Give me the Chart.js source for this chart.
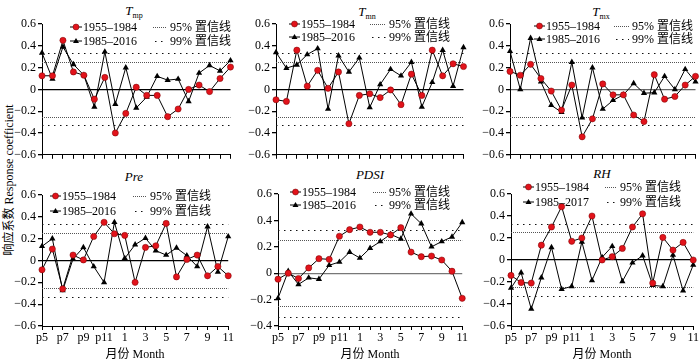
<!DOCTYPE html>
<html lang="zh">
<head>
<meta charset="UTF-8">
<title>响应系数</title>
<script src="https://cdn.jsdelivr.net/npm/chart.js@4.4.1/dist/chart.umd.min.js"></script>
<style>
  body { margin: 0; background: #fff; }
  #fig { position: relative; width: 700px; height: 359px; background: #fff; overflow: hidden;
         font-family: "Liberation Serif", "Noto Sans CJK SC", serif; color: #000; }
  #fig canvas { position: absolute; }
  .ttl { position: absolute; transform: translate(-50%, -50%); font-size: 13px; font-style: italic; white-space: nowrap; }
  .ttl sub { font-style: normal; font-size: 8px; vertical-align: -3px; }
  .ylab { position: absolute; left: 8px; top: 180px; transform: translate(-50%, -50%) rotate(-90deg);
          font-size: 12px; white-space: nowrap; }
</style>
</head>
<body>
<div id="fig">
  <div class="ylab">响应系数 Response coefficient</div>
  <div class="ttl" style="left:134px;top:11px"><i>T</i><sub>mp</sub></div>
  <div class="ttl" style="left:367px;top:12px"><i>T</i><sub>mn</sub></div>
  <div class="ttl" style="left:601px;top:12px"><i>T</i><sub>mx</sub></div>
  <div class="ttl" style="left:134px;top:177px">Pre</div>
  <div class="ttl" style="left:370px;top:175px">PDSI</div>
  <div class="ttl" style="left:602px;top:174px">RH</div>
  <canvas id="cTmp" width="223" height="150" style="left:12px;top:14px"></canvas>
  <canvas id="cTmn" width="222" height="150" style="left:246px;top:14px"></canvas>
  <canvas id="cTmx" width="220" height="150" style="left:480px;top:14px"></canvas>
  <canvas id="cPre" width="223" height="184" style="left:12px;top:180px"></canvas>
  <canvas id="cPdsi" width="221" height="184" style="left:248px;top:180px"></canvas>
  <canvas id="cRh" width="219" height="184" style="left:481px;top:180px"></canvas>
</div>

<script>
const months = ['p5','p6','p7','p8','p9','p10','p11','p12','1','2','3','4','5','6','7','8','9','10','11'];

const tmpEarly = [0.125,0.125,0.45,0.16,0.13,-0.09,0.11,-0.40,-0.22,0.02,-0.055,-0.055,-0.25,-0.18,0.0,0.04,-0.02,0.10,0.205];
const tmpLate  = [0.335,0.095,0.39,0.23,0.13,-0.16,0.345,-0.135,0.20,-0.17,-0.07,0.12,0.085,0.095,-0.11,0.15,0.22,0.17,0.265];

const tmnEarly = [-0.095,-0.11,0.36,0.03,0.175,0.01,0.16,-0.315,-0.055,-0.04,-0.075,-0.005,-0.14,0.14,-0.055,0.36,0.125,0.235,0.21];
const tmnLate  = [0.34,0.195,0.225,0.32,0.375,-0.18,0.31,0.16,0.29,-0.165,0.045,0.185,0.125,0.25,-0.16,0.065,0.36,0.03,0.385];

const tmxEarly = [0.165,0.13,0.23,0.10,-0.015,-0.19,0.04,-0.435,-0.27,0.05,-0.05,-0.05,-0.235,-0.295,0.135,-0.09,-0.065,0.04,0.12];
const tmxLate  = [0.35,0.0,0.47,0.07,-0.145,-0.21,0.25,-0.26,0.20,-0.18,-0.10,-0.05,0.055,-0.035,-0.03,0.12,0.0,0.185,0.07];

const preEarly = [-0.085,0.105,-0.26,0.05,0.005,0.22,0.35,0.245,0.23,-0.20,0.12,0.135,0.34,-0.15,0.01,0.05,-0.14,-0.055,-0.14];
const preLate  = [0.13,0.20,-0.275,0.015,0.12,-0.055,-0.20,0.35,0.02,0.145,0.205,0.09,0.05,0.115,0.045,-0.055,0.31,-0.105,0.22];

const pdsiEarly = [-0.045,0.0,-0.04,0.04,0.11,0.105,0.28,0.33,0.35,0.31,0.31,0.29,0.345,0.16,0.125,0.13,0.10,0.015,-0.19];
const pdsiLate  = [-0.19,0.015,-0.085,-0.035,-0.045,0.06,0.085,0.16,0.115,0.19,0.24,0.295,0.26,0.45,0.375,0.20,0.24,0.275,0.385];

const rhEarly = [-0.14,-0.205,-0.21,0.135,0.30,0.485,0.17,0.20,0.40,0.0,0.03,0.105,0.30,0.42,-0.21,0.205,0.09,0.16,0.0];
const rhLate  = [-0.255,-0.115,-0.445,-0.16,0.115,-0.265,-0.24,0.165,-0.185,0.025,0.125,-0.195,-0.025,0.04,-0.23,-0.24,0.045,-0.28,-0.045];

// y tick values
const yTicksFull = [-0.6, -0.4, -0.2, 0, 0.2, 0.4, 0.6];
const yTicksPdsi = [-0.4, -0.2, 0, 0.2, 0.4, 0.6];

// confidence levels (drawn as +/-)
const conf95 = 0.25;
const conf99 = 0.33;

const earlyLabel = '1955–1984';
const confLabels = ['95% 置信线', '99% 置信线'];

const FONT = '"Liberation Serif", "Noto Sans CJK SC", serif';
const RED = '#e2131b';

// legend box positions are relative to the plot area (left, top)
const panels = [
  { id: 'cTmp',  early: tmpEarly,  late: tmpLate,  lateLabel: '1985–2016', yTicks: yTicksFull, padTop: 10, xh: 8,  showX: false, zero: '#000',
    leg: { s1: 28, t1: 41, s2: 111, t2: 128, y1: 3, y2: 17 } },
  { id: 'cTmn',  early: tmnEarly,  late: tmnLate,  lateLabel: '1985–2016', yTicks: yTicksFull, padTop: 10, xh: 8,  showX: false, zero: '#000',
    leg: { s1: 13, t1: 25, s2: 94, t2: 113, y1: 0, y2: 13 } },
  { id: 'cTmx',  early: tmxEarly,  late: tmxLate,  lateLabel: '1985–2016', yTicks: yTicksFull, padTop: 10, xh: 8,  showX: false, zero: '#666',
    leg: { s1: 24, t1: 36, s2: 104, t2: 122, y1: 2, y2: 15 } },
  { id: 'cPre',  early: preEarly,  late: preLate,  lateLabel: '1985–2016', yTicks: yTicksFull, padTop: 15, xh: 38, showX: true, zero: '#000',
    leg: { s1: 8, t1: 20, s2: 91, t2: 108, y1: 1, y2: 16 } },
  { id: 'cPdsi', early: pdsiEarly, late: pdsiLate, lateLabel: '1985–2016', yTicks: yTicksPdsi, padTop: 14, xh: 38, showX: true, zero: '#777',
    leg: { s1: 12, t1: 24, s2: 95, t2: 111, y1: -2, y2: 11 } },
  { id: 'cRh',   early: rhEarly,   late: rhLate,   lateLabel: '1985–2017', yTicks: yTicksFull, padTop: 14, xh: 38, showX: true, zero: '#000',
    leg: { s1: 12, t1: 24, s2: 94, t2: 109, y1: -7, y2: 8 } }
];

function drawMarker(ctx, style, x, y, r) {
  ctx.beginPath();
  if (style === 'circle') {
    ctx.arc(x, y, r, 0, Math.PI * 2);
    ctx.fillStyle = RED; ctx.fill();
    ctx.strokeStyle = '#600'; ctx.lineWidth = 0.5; ctx.stroke();
  } else {
    ctx.moveTo(x, y - r); ctx.lineTo(x + r, y + r * 0.7); ctx.lineTo(x - r, y + r * 0.7);
    ctx.closePath(); ctx.fillStyle = '#000'; ctx.fill();
  }
}

function dotted(ctx, x1, x2, y, dash, col) {
  ctx.save();
  ctx.setLineDash(dash); ctx.strokeStyle = col; ctx.lineWidth = 1;
  ctx.beginPath(); ctx.moveTo(x1, y); ctx.lineTo(x2, y); ctx.stroke();
  ctx.restore();
}

const confPlugin = {
  id: 'confLines',
  beforeDatasetsDraw(chart) {
    const { ctx, chartArea: a, scales: { y } } = chart;
    [conf95, -conf95].forEach(v => dotted(ctx, a.left, a.right, Math.round(y.getPixelForValue(v)) + 0.5, [1, 1], '#555'));
    [conf99, -conf99].forEach(v => dotted(ctx, a.left, a.right, Math.round(y.getPixelForValue(v)) + 0.5, [1.5, 4.5], '#111'));
  }
};

const legendPlugin = {
  id: 'boxLegend',
  afterDraw(chart, args, opts) {
    const { ctx, chartArea: a } = chart;
    const L = opts.pos;
    const y1 = a.top + L.y1, y2 = a.top + L.y2;
    ctx.save();
    ctx.font = '12px ' + FONT;
    ctx.textBaseline = 'middle';
    [[y1, 'circle', earlyLabel], [y2, 'triangle', opts.lateLabel]].forEach(([yy, st, txt]) => {
      ctx.strokeStyle = '#000'; ctx.lineWidth = 1; ctx.setLineDash([]);
      ctx.beginPath(); ctx.moveTo(a.left + L.s1, yy); ctx.lineTo(a.left + L.t1 - 1, yy); ctx.stroke();
      drawMarker(ctx, st, a.left + (L.s1 + L.t1 - 1) / 2, yy, 3);
      ctx.fillStyle = '#000';
      ctx.fillText(txt, a.left + L.t1, yy + 1);
    });
    dotted(ctx, a.left + L.s2, a.left + L.t2 - 3, Math.round(y1) + 0.5, [1, 1], '#555');
    dotted(ctx, a.left + L.s2 + 2, a.left + L.t2 - 3, Math.round(y2) + 0.5, [1.5, 4.5], '#111');
    ctx.fillStyle = '#000';
    ctx.fillText(confLabels[0], a.left + L.t2, y1 + 1);
    ctx.fillText(confLabels[1], a.left + L.t2, y2 + 1);
    ctx.restore();
  }
};

function fmt(v) {
  if (Math.abs(v) < 1e-9) return '0';
  return v.toFixed(1).replace('-', '−');
}

panels.forEach(p => {
  const yMin = p.yTicks[0], yMax = p.yTicks[p.yTicks.length - 1];
  new Chart(document.getElementById(p.id), {
    type: 'line',
    data: {
      labels: months,
      datasets: [
        { label: earlyLabel, data: p.early, borderColor: '#000', borderWidth: 1, pointStyle: 'circle',
          pointRadius: 3.1, pointBackgroundColor: RED, pointBorderColor: '#700', pointBorderWidth: 0.5, tension: 0 },
        { label: p.lateLabel, data: p.late, borderColor: '#000', borderWidth: 1, pointStyle: 'triangle',
          pointRadius: 3.6, pointBackgroundColor: '#000', pointBorderColor: '#000', pointBorderWidth: 0, tension: 0 }
      ]
    },
    options: {
      responsive: false,
      animation: false,
      layout: { padding: { top: p.padTop, left: 0, right: 0, bottom: 0 } },
      plugins: {
        legend: { display: false },
        tooltip: { enabled: false },
        boxLegend: { pos: p.leg, lateLabel: p.lateLabel }
      },
      scales: {
        x: {
          offset: false,
          grid: { drawOnChartArea: false, tickColor: '#000', tickLength: 4 },
          border: { color: '#000', width: 1 },
          ticks: {
            display: p.showX, autoSkip: false, maxRotation: 0, padding: 1, color: '#000',
            font: { family: FONT, size: 12 },
            callback: (v, i) => (i % 2 === 0 ? months[i] : '')
          },
          title: { display: p.showX, text: '月份 Month', color: '#000', font: { family: FONT, size: 12 }, padding: { top: 2, bottom: 2 } },
          afterFit: s => { s.height = p.xh; }
        },
        y: {
          min: yMin, max: yMax,
          afterBuildTicks: s => { s.ticks = p.yTicks.map(v => ({ value: v })); },
          ticks: { color: '#000', padding: 2, font: { family: FONT, size: 12 }, callback: v => fmt(v) },
          grid: {
            color: c => (c.tick && Math.abs(c.tick.value) < 1e-9 ? p.zero : 'transparent'),
            lineWidth: 1.3, tickColor: '#000', tickLength: 4
          },
          border: { color: '#000', width: 1 },
          afterFit: s => { s.width = 30; }
        }
      }
    },
    plugins: [confPlugin, legendPlugin]
  });
});
</script>
</body>
</html>
